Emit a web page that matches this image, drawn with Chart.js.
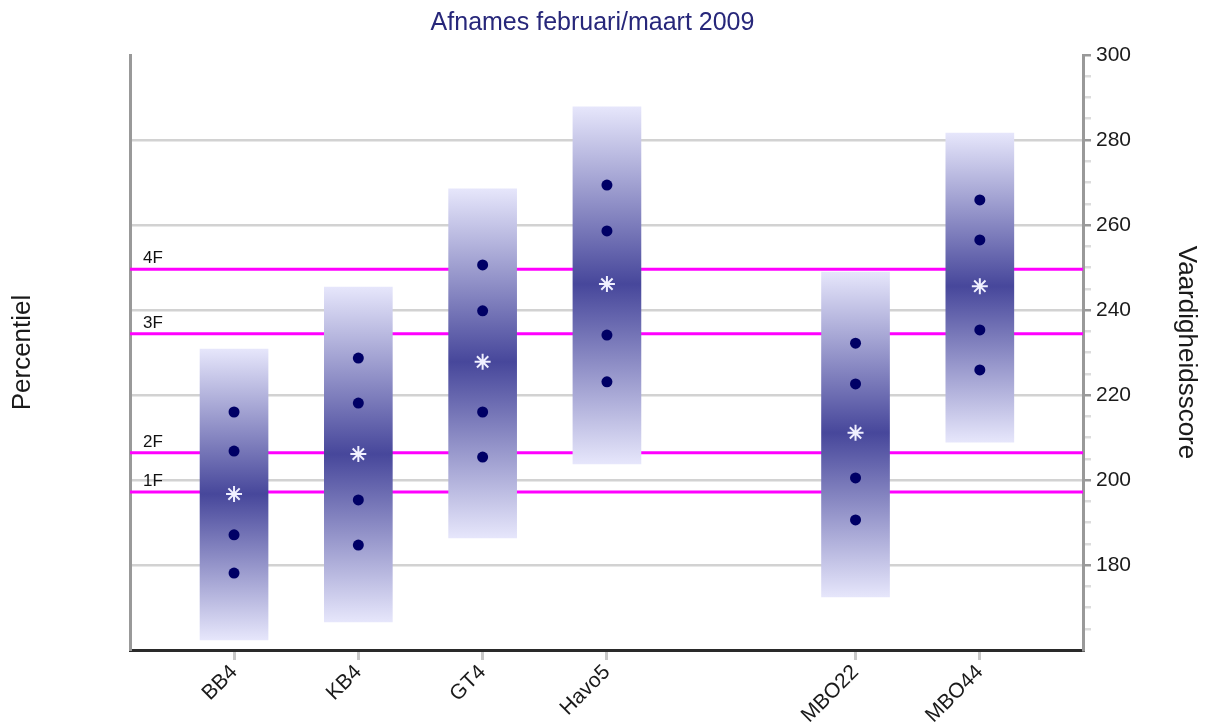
<!DOCTYPE html>
<html>
<head>
<meta charset="utf-8">
<script src="https://cdn.jsdelivr.net/npm/chart.js@4.4.0/dist/chart.umd.min.js"></script>
<style>
  body { margin: 0; background: #fff; }
  #wrap { width: 1216px; height: 726px; }
</style>
</head>
<body>
<div id="wrap"><canvas id="scoreChart"></canvas></div>
<script>
// groups and their position on the x axis (gap between Havo5 and MBO22)
const categories = ['BB4', 'KB4', 'GT4', 'Havo5', 'MBO22', 'MBO44'];
const xPos = [0, 1, 2, 3, 5, 6];

// band ends and percentile points (vaardigheidsscore)
const barTop = [230.8, 245.4, 268.5, 287.8, 248.9, 281.6];
const barBottom = [162.4, 166.6, 186.4, 203.8, 172.5, 208.9];
const p90 = [216.0, 228.7, 250.6, 269.4, 232.2, 265.9];
const p75 = [206.8, 218.1, 239.8, 258.6, 222.6, 256.5];
const median = [196.7, 206.1, 227.8, 246.1, 211.1, 245.6];
const p25 = [187.1, 195.3, 216.0, 234.1, 200.5, 235.3];
const p10 = [178.1, 184.7, 205.4, 223.1, 190.6, 225.9];

// reference levels
const levels = ['1F', '2F', '3F', '4F'];
const levelValues = [197.2, 206.4, 234.4, 249.6];

const chartTitle = 'Afnames februari/maart 2009';
const xMin = -0.837, xMax = 6.83;
const fontFamily = '"Liberation Sans", Arial, sans-serif';

Chart.defaults.font.family = fontFamily;
Chart.defaults.color = '#1a1a1a';

function pts(arr) {
    return arr.map((v, i) => ({ x: xPos[i], y: v }));
}

var datasets = [];

// level lines, drawn behind the bands
levelValues.forEach(function(v, i) {
    datasets.push({
        type: 'line',
        label: levels[i],
        data: [{ x: xMin, y: v }, { x: xMax, y: v }],
        borderColor: '#ff00ff',
        borderWidth: 3,
        pointRadius: 0,
        yAxisID: 'y',
        order: 10
    });
});

datasets.push({
    type: 'bar',
    label: 'band',
    data: barTop.map((t, i) => ({ x: xPos[i], y: [barBottom[i], t] })),
    barThickness: 68,
    borderWidth: 0,
    borderSkipped: false,
    yAxisID: 'y',
    order: 5,
    backgroundColor: function(c) {
        const chart = c.chart;
        if (!chart.chartArea || c.type !== 'data') return '#8888cc';
        const y = chart.scales.y;
        const i = c.dataIndex;
        const yt = y.getPixelForValue(barTop[i]);
        const yb = y.getPixelForValue(barBottom[i]);
        const ym = y.getPixelForValue(median[i]);
        const g = chart.ctx.createLinearGradient(0, yt, 0, yb);
        g.addColorStop(0, '#e6e6fb');
        g.addColorStop((ym - yt) / (yb - yt), '#47479b');
        g.addColorStop(1, '#e6e6fb');
        return g;
    }
});

[p90, p75, p25, p10].forEach(function(arr) {
    datasets.push({
        type: 'line',
        data: pts(arr),
        showLine: false,
        pointRadius: 5.5,
        pointBackgroundColor: '#000066',
        pointBorderWidth: 0,
        yAxisID: 'y',
        order: 1
    });
});

datasets.push({
    type: 'line',
    data: pts(median),
    showLine: false,
    pointStyle: 'star',
    pointRadius: 8,
    pointBorderColor: '#f0f0ff',
    pointBorderWidth: 2,
    yAxisID: 'y',
    order: 0
});

// level labels and the title (title sits a bit left of centre in the original)
const textPlugin = {
    id: 'textPlugin',
    afterDatasetsDraw(chart) {
        const ctx = chart.ctx;
        const y = chart.scales.y;
        const area = chart.chartArea;
        ctx.save();
        ctx.font = '17px ' + fontFamily;
        ctx.fillStyle = '#111';
        ctx.textBaseline = 'bottom';
        levelValues.forEach(function(v, i) {
            ctx.fillText(levels[i], area.left + 13, y.getPixelForValue(v) - 2);
        });
        ctx.font = '25px ' + fontFamily;
        ctx.fillStyle = '#27277a';
        ctx.textAlign = 'center';
        ctx.textBaseline = 'middle';
        ctx.fillText(chartTitle, (area.left + area.right) / 2 - 14, 23);
        ctx.restore();
    }
};

var ctx = document.getElementById('scoreChart').getContext('2d');
var myChart = new Chart(ctx, {
    data: { datasets: datasets },
    plugins: [textPlugin],
    options: {
        responsive: true,
        maintainAspectRatio: false,
        animation: false,
        layout: { padding: { top: 55 } },
        plugins: {
            legend: { display: false },
            tooltip: { enabled: false }
        },
        scales: {
            x: {
                type: 'linear',
                min: xMin,
                max: xMax,
                offset: false,
                afterBuildTicks: function(scale) {
                    scale.ticks = xPos.map(v => ({ value: v }));
                },
                afterFit: function(scale) { scale.height = 76; },
                ticks: {
                    minRotation: 45,
                    maxRotation: 45,
                    font: { size: 21 },
                    padding: 0,
                    autoSkip: false,
                    callback: function(value) {
                        const i = xPos.indexOf(value);
                        return i >= 0 ? categories[i] : '';
                    }
                },
                grid: {
                    offset: false,
                    drawOnChartArea: false,
                    color: '#c8c8c8',
                    tickLength: 10,
                    lineWidth: 3
                },
                border: { color: '#2a2a2a', width: 3 }
            },
            yL: {
                type: 'linear',
                position: 'left',
                min: 160,
                max: 300,
                afterFit: function(scale) { scale.width = 130; },
                ticks: { display: false },
                grid: { display: false },
                border: { color: '#999', width: 3 },
                title: {
                    display: true,
                    text: 'Percentiel',
                    font: { size: 26 },
                    padding: { top: 7 }
                }
            },
            y: {
                type: 'linear',
                position: 'right',
                min: 160,
                max: 300,
                afterBuildTicks: function(scale) {
                    var t = [];
                    for (var v = 165; v <= 300; v += 5) t.push({ value: v });
                    scale.ticks = t;
                },
                afterFit: function(scale) { scale.width = 133; },
                ticks: {
                    font: { size: 21 },
                    padding: 5,
                    autoSkip: false,
                    callback: function(value) {
                        return value % 20 === 0 ? value : '';
                    }
                },
                grid: {
                    tickLength: 8,
                    lineWidth: 2.5,
                    color: function(c) {
                        const v = c.tick && c.tick.value;
                        return (v % 20 === 0 && v < 300) ? '#d2d2d2' : 'rgba(0,0,0,0)';
                    },
                    tickColor: function(c) {
                        const v = c.tick && c.tick.value;
                        return v % 20 === 0 ? '#999' : '#dcdcdc';
                    }
                },
                border: { color: '#999', width: 3 },
                title: {
                    display: true,
                    text: 'Vaardigheidsscore',
                    font: { size: 26 },
                    padding: { top: 14 }
                }
            }
        }
    }
});
</script>
</body>
</html>
